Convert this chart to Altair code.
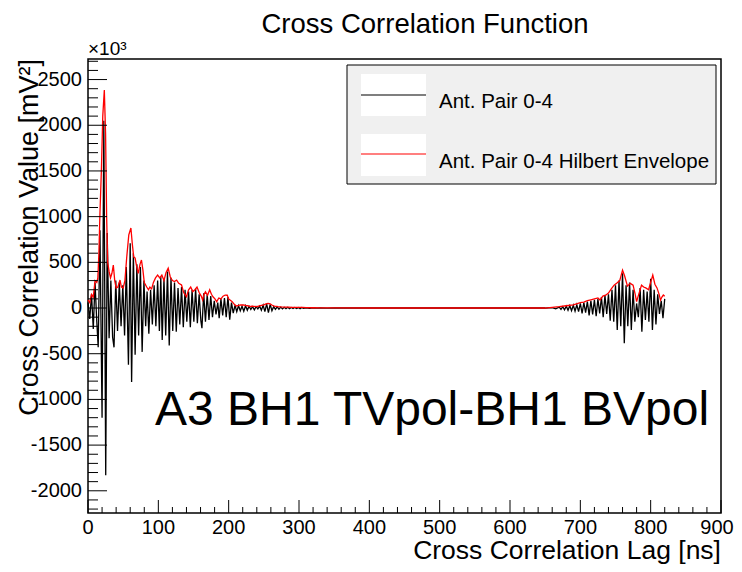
import altair as alt
import pandas as pd

# ---- data ----
black_lag = [0, 2.5, 5, 7.5, 10, 12.5, 14.5, 17, 20, 22.5, 25.2, 27.3, 30, 32.5, 35, 37, 39.5, 42, 44.5, 47,
             49.5, 52, 54.5, 57.5, 60, 62, 64.5, 67, 69.5, 72, 74.5, 77, 79.5, 82, 84, 86.5, 89, 91.5, 94, 96.5,
             99, 101.5, 103.5, 105.5, 108, 110.5, 113, 115.5, 118, 120.5, 123, 125.5, 128, 130.5, 133, 135.5,
             138, 140.5, 143, 145.5, 148, 150.5, 153, 155.5, 158, 160.5, 162, 164.5, 167, 169.5, 172, 174.5,
             177, 179.5, 182, 184.5, 186.5, 189, 191.5, 194, 196.5, 199, 201.5, 204, 206.5, 209, 211.5, 214,
             216.5, 219, 221.5, 224, 226.5, 229, 231.5, 234, 236.5, 239, 241.5, 244, 246.5, 249, 251.5, 254,
             256.5, 259, 261.5, 264, 266.5, 269, 271.5, 274, 276.5, 279, 281.5, 284, 286.5, 289, 291.5, 294,
             296.5, 299, 301.5, 304, 306.5, 310, 315, 320, 325, 330, 340, 350, 400, 500, 600, 650,
             660, 665, 670, 672.5, 675, 677.5, 680, 682.5, 685, 687.5, 690, 692.5, 695, 697.5, 700, 702.5, 705,
             707.5, 710, 712.5, 715, 717.5, 720, 722.5, 725, 727.5, 730, 732.5, 735, 737.5, 740, 742.5, 745,
             747.5, 750, 752.5, 755, 757.5, 760, 762.5, 765, 767.5, 770, 772.5, 775, 777.5, 780, 782.5, 785,
             787.5, 790, 792.5, 795, 797.5, 800, 802.5, 805, 807.5, 810, 812.5, 815, 817.5, 820]
black_val = [60, -120, 150, -230, 280, -150, -430, 850, -1200, 2050, -1830, 820, -330, 300, -320, -430, 300, -250, 280, -200,
             250, -300, 450, -620, 710, -810, 600, -510, 480, -300, 450, -480, 300, -200, 180, -280, 200, -180, 250, -200,
             300, -250, 340, -350, 320, -300, 400, -410, 330, -250, 280, -260, 220, -180, 230, -210,
             200, -150, 180, -210, 200, -150, 210, -165, 150, -140, -220, 160, -150, 150, -130, 130,
             -100, 80, -70, 60, -110, 100, -80, 110, -100, 120, -127, 60, -55, 30, -40, 25,
             -30, 20, -35, 25, -25, 20, -15, 15, -20, 15, -10, 20, -25, 30, -40, 45,
             -50, 40, -30, 15, -15, 12, -12, 10, -10, 8, -8, 8, -8, 6, -6, 6,
             -6, 5, -8, 5, -4, 3, -3, 3, -2, 2, -1, 1, 0, 0, 0, 0,
             5, -8, 10, -15, 15, -20, 20, -25, 25, -30, 30, -35, 35, -40, 50, -60, 60,
             -50, 70, -80, 80, -70, 90, -90, 100, -60, 120, -100, 140, -65, 150, -140, 200,
             -150, 250, -240, 300, -200, 380, -385, 250, -200, 280, -240, 200, -150, 50, -100, 220,
             -260, 200, -130, 180, -150, 320, -240, 200, -180, 150, -65, 80, -110, 100]

env_lag = [0, 2.5, 5, 7.5, 10, 12.5, 14, 15.5, 17, 19, 21, 23.2, 25, 26.5, 28, 30, 32, 34, 36, 38, 40, 42.5, 45.5,
           47.5, 50, 52.5, 55, 58, 61, 63, 65, 67, 69, 71.5, 74, 76, 78, 80, 83.5, 86, 88, 90.5, 93, 96, 99, 102,
           105, 108, 111, 114, 117, 120, 123, 126, 129, 133, 136, 140, 143, 146, 149, 152, 155, 158, 161, 163,
           165, 167, 170, 173, 175.5, 178, 180.5, 183, 186, 189, 192, 195, 198, 200, 202, 205, 208, 211, 214,
           217, 221, 224, 227, 230, 233, 236, 240, 245, 250, 253, 256, 259, 262, 265, 270, 275, 280, 285, 290,
           295, 300, 305, 310, 320, 330, 350, 400, 500, 600, 650, 660, 670, 680, 690, 700, 705, 710, 715, 720,
           725, 728, 732, 736, 740, 744, 748, 752, 756, 760, 763, 767, 771, 775, 778, 780, 783, 787, 790, 793,
           797, 800, 803, 806, 809, 812, 814, 816, 818, 820]
env_val = [90, 60, 150, 120, 300, 280, 330, 600, 1040, 1500, 2100, 2385, 1900, 1000, 500, 400, 330, 380, 470, 300,
           220, 230, 306, 230, 220, 300, 550, 800, 875, 700, 560, 547, 460, 380, 480, 525, 420, 280, 230, 200,
           230, 210, 280, 330, 360, 330, 360, 300, 390, 437, 340, 300, 290, 306, 270, 252, 170, 124, 200, 230,
           180, 200, 230, 170, 130, 87, 150, 178, 140, 200, 150, 120, 100, 70, 110, 100, 130, 142, 140, 100,
           87, 70, 40, 22, 30, 35, 33, 28, 25, 15, 20, 18, 15, 25, 35, 45, 50, 45, 30, 20, 15, 12, 10, 10, 8,
           8, 8, 6, 4, 3, 2, 1, 0, 0, 0, 0, 8, 15, 25, 35, 60, 65, 80, 90, 100, 110, 87, 130, 140, 164, 210,
           250, 273, 300, 415, 350, 240, 270, 250, 150, 70, 150, 250, 230, 220, 200, 280, 360, 260, 220, 150,
           87, 120, 142, 130]

y_major = [-2000, -1500, -1000, -500, 0, 500, 1000, 1500, 2000, 2500]
y_labels = ["-2000", "-1500", "-1000", "-500", "0", "500", "1000", "1500", "2000", "2500"]
y_minor = [-2200, -2100, -1900, -1800, -1700, -1600, -1400, -1300, -1200, -1100, -900, -800, -700, -600,
           -400, -300, -200, -100, 100, 200, 300, 400, 600, 700, 800, 900, 1100, 1200, 1300, 1400, 1600,
           1700, 1800, 1900, 2100, 2200, 2300, 2400, 2600, 2700]
x_major = [0, 100, 200, 300, 400, 500, 600, 700, 800, 900]
x_labels = ["0", "100", "200", "300", "400", "500", "600", "700", "800", "900"]
x_minor = [v for v in range(20, 900, 20) if v % 100 != 0]

x_domain = [0, 900]
y_domain = [-2243, 2725]

W, H = 633, 454
FONT = "Liberation Sans"

xs = alt.Scale(domain=x_domain, nice=False, zero=False)
ys = alt.Scale(domain=y_domain, nice=False, zero=False)

df_black = pd.DataFrame({"lag": black_lag, "val": black_val})
df_env = pd.DataFrame({"lag": env_lag, "val": env_val})

black = alt.Chart(df_black).mark_line(color="black", strokeWidth=1.3).encode(
    x=alt.X("lag:Q", scale=xs, axis=None),
    y=alt.Y("val:Q", scale=ys, axis=None),
)
red = alt.Chart(df_env).mark_line(color="red", strokeWidth=1.3).encode(
    x=alt.X("lag:Q", scale=xs, axis=None),
    y=alt.Y("val:Q", scale=ys, axis=None),
)

df_ymaj = pd.DataFrame({"v": y_major, "lab": y_labels})
df_xmaj = pd.DataFrame({"v": x_major, "lab": x_labels})

ymaj = alt.Chart(df_ymaj).mark_rule(color="black", strokeWidth=1).encode(
    y=alt.Y("v:Q", scale=ys, axis=None), x=alt.value(0), x2=alt.value(19))
ymin = alt.Chart(pd.DataFrame({"v": y_minor})).mark_rule(color="black", strokeWidth=1).encode(
    y=alt.Y("v:Q", scale=ys, axis=None), x=alt.value(0), x2=alt.value(10))
xmaj = alt.Chart(df_xmaj).mark_rule(color="black", strokeWidth=1).encode(
    x=alt.X("v:Q", scale=xs, axis=None), y=alt.value(H), y2=alt.value(H - 13))
xmin = alt.Chart(pd.DataFrame({"v": x_minor})).mark_rule(color="black", strokeWidth=1).encode(
    x=alt.X("v:Q", scale=xs, axis=None), y=alt.value(H), y2=alt.value(H - 6))

ylab = alt.Chart(df_ymaj).mark_text(font=FONT, fontSize=20, align="right", baseline="middle",
                                    color="black").encode(
    y=alt.Y("v:Q", scale=ys, axis=None), x=alt.value(-6), text="lab:N")
xlab = alt.Chart(df_xmaj.iloc[:-1]).mark_text(font=FONT, fontSize=20, align="center", baseline="top",
                                              color="black").encode(
    x=alt.X("v:Q", scale=xs, axis=None), y=alt.value(H + 5), text="lab:N")
xlab_last = alt.Chart(df_xmaj.iloc[-1:]).mark_text(font=FONT, fontSize=20, align="center", baseline="top",
                                                   color="black", dx=-4).encode(
    x=alt.X("v:Q", scale=xs, axis=None), y=alt.value(H + 5), text="lab:N")

one = pd.DataFrame({"k": [0]})

def txt(text, x, y, size, align="left", angle=0, baseline="alphabetic"):
    kw = dict(text=text, fontSize=size, font=FONT, color="black", align=align, baseline=baseline)
    if angle:
        kw["angle"] = angle
    return alt.Chart(one).mark_text(**kw).encode(x=alt.value(x), y=alt.value(y))

def box(x1, x2, y1, y2, fill, stroke=None):
    kw = dict(fill=fill)
    if stroke:
        kw.update(stroke=stroke, strokeWidth=1)
    return alt.Chart(one).mark_rect(**kw).encode(
        x=alt.value(x1), x2=alt.value(x2), y=alt.value(y1), y2=alt.value(y2))

def seg(x1, x2, y, color):
    return alt.Chart(one).mark_rule(color=color, strokeWidth=1.2).encode(
        x=alt.value(x1), x2=alt.value(x2), y=alt.value(y))

legend = [
    box(259, 628, 6, 125, "#f0f0f0", "black"),
    box(273, 338, 15, 57, "white"),
    box(273, 338, 75, 117, "white"),
    seg(273, 338, 36, "black"),
    seg(273, 338, 95, "red"),
    txt("Ant. Pair 0-4", 351, 49, 20.5),
    txt("Ant. Pair 0-4 Hilbert Envelope", 351, 109, 20.5),
]

texts = [
    txt("Cross Correlation Function", 337, -26, 27.5, align="center"),
    txt("×10³", 0, -4, 19),
    txt("Cross Correlation Lag [ns]", W, 500, 26.5, align="right"),
    txt("Cross Correlation Value [mV²]", -50, 0, 27, align="right", angle=270),
    txt("A3 BH1 TVpol-BH1 BVpol", 67, 366, 48),
]

chart = alt.layer(
    black, red, ymaj, ymin, xmaj, xmin, ylab, xlab, xlab_last, *legend, *texts
).properties(
    width=W, height=H,
    autosize=alt.AutoSizeParams(type="none"),
    padding={"left": 80, "top": 51, "right": 13, "bottom": 51},
    background="white",
).configure_view(stroke="black", strokeWidth=1.5)

chart.save("out.html", embed_options={"renderer": "svg", "actions": False})
